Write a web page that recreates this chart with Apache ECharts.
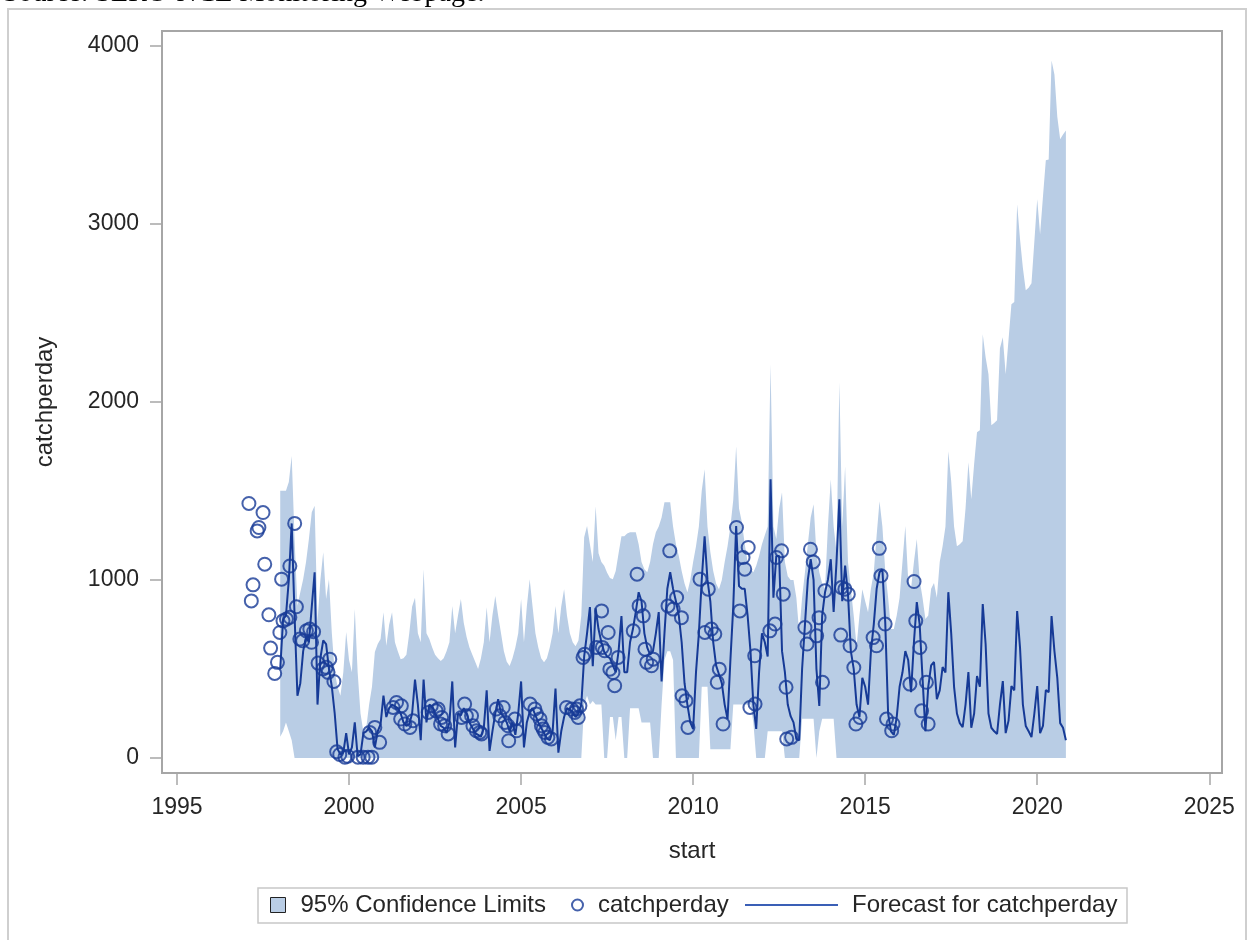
<!DOCTYPE html>
<html>
<head>
<meta charset="utf-8">
<title>catchperday forecast</title>
<script src="https://cdn.jsdelivr.net/npm/echarts@6/dist/echarts.min.js"></script>
<style>
  html, body { margin: 0; padding: 0; background: #fff; }
  #main { width: 1250px; height: 940px; }
</style>
</head>
<body>
<div id="main"></div>
<script>
// monthly forecast, one row per year, first month = Jan 1998
const firstYear = 1998;

const forecast = [
  500, 780, 800, 1000, 1317, 800, 350, 420, 600, 680, 650, 850,      // 1998
  1043, 300, 560, 660, 640, 500, 400, 250, 50, 20, 30, 140,          // 1999
  20, 60, 200, 10, 20, 140, 150, 170, 150, 60, 150, 190,             // 2000
  350, 230, 280, 300, 290, 280, 250, 200, 180, 190, 250, 440,        // 2001
  300, 100, 440, 200, 300, 290, 250, 220, 180, 170, 140, 200,        // 2002
  430, 60, 250, 240, 280, 250, 200, 170, 140, 130, 120, 170,         // 2003
  380, 40, 150, 250, 330, 250, 230, 200, 150, 200, 130, 250,         // 2004
  430, 60, 200, 260, 280, 240, 200, 170, 140, 110, 100, 150,         // 2005
  390, 30, 150, 230, 280, 270, 260, 230, 250, 300, 570, 700,         // 2006
  847, 516, 840, 724, 650, 595, 570, 560, 520, 482, 600, 797,        // 2007
  482, 482, 650, 724, 820, 931, 880, 700, 620, 580, 600, 700,        // 2008
  819, 430, 700, 950, 1043, 950, 880, 800, 650, 420, 300, 200,       // 2009
  163, 482, 700, 1000, 1245, 1000, 880, 650, 520, 470, 420, 300,     // 2010
  219, 550, 853, 1302, 965, 950, 950, 800, 600, 300, 163, 482,       // 2011
  700, 650, 570, 1565, 900, 1134, 1134, 600, 482, 300, 235, 200,     // 2012
  107, 100, 500, 750, 1000, 1116, 1000, 500, 292, 800, 931, 1000,    // 2013
  1116, 820, 1100, 1453, 880, 1080, 920, 600, 500, 300, 230, 450,    // 2014
  400, 300, 600, 750, 950, 1043, 1060, 760, 250, 150, 130, 230,      // 2015
  400, 480, 600, 550, 370, 650, 875, 750, 450, 150, 400, 520,        // 2016
  539, 331, 380, 511, 480, 931, 700, 400, 250, 196, 174, 300,        // 2017
  482, 170, 250, 460, 400, 864, 640, 250, 170, 150, 135, 300,        // 2018
  432, 140, 210, 404, 380, 825, 620, 300, 180, 150, 118, 250,        // 2019
  404, 140, 180, 381, 370, 797, 600, 450, 196, 170, 100              // 2020
];

const upper = [
  1500, 1500, 1500, 1550, 1696, 1229, 855, 930, 1004, 1100, 1229, 1380,
  1416, 763, 1000, 1155, 892, 1004, 700, 482, 400, 350, 482, 707,
  550, 482, 836, 482, 250, 146, 170, 300, 400, 595, 640, 668,
  819, 630, 750, 819, 650, 600, 555, 560, 580, 700, 850, 900,
  700, 650, 1060, 700, 668, 620, 580, 560, 544, 560, 600, 650,
  853, 700, 800, 892, 760, 680, 620, 580, 540, 500, 560, 650,
  847, 650, 800, 909, 800, 700, 600, 540, 516, 560, 620, 700,
  892, 650, 850, 1004, 850, 700, 620, 560, 538, 560, 620, 700,
  853, 700, 850, 948, 800, 700, 650, 628, 660, 800, 1240, 1302,
  1200, 1100, 1414, 1150, 1100, 1080, 1040, 1010, 1004, 1050, 1150, 1245,
  1245, 1260, 1268, 1268, 1268, 1200, 1100, 1060, 1043, 1100, 1200, 1268,
  1300, 1350, 1436, 1436, 1436, 1300, 1200, 1134, 1050, 980, 931, 1000,
  1100, 1189, 1300, 1500, 1621, 1300, 1156, 1050, 980, 948, 1000, 1100,
  1189, 1300, 1450, 1750, 1400, 1324, 1200, 1100, 1060, 1043, 1080, 1134,
  1200, 1250, 1300, 2210, 1300, 1229, 1400, 1492, 1100, 1020, 1000, 1000,
  900, 700, 900, 1043, 1200, 1350, 1425, 1150, 1043, 980, 950, 1300,
  1565, 1300, 1155, 2109, 1300, 1638, 1100, 950, 800, 628, 800, 948,
  880, 819, 950, 1043, 1250, 1442, 1300, 1050, 900, 724, 724, 800,
  900, 1100, 1302, 1000, 950, 1100, 1229, 1000, 900, 780, 800, 950,
  982, 900, 1100, 1189, 1300, 1722, 1554, 1300, 1189, 1200, 1217, 1400,
  1661, 1453, 1650, 1829, 1840, 2379, 2250, 2154, 1868, 1880, 1896, 2300,
  2362, 2154, 2350, 2547, 2560, 3108, 2912, 2750, 2626, 2640, 2665, 2900,
  3136, 2940, 3150, 3355, 3360, 3916, 3837, 3600, 3473, 3500, 3523
];

const lower = [
  120, 150, 200, 150, 100, 0, 0, 0, 0, 0, 0, 0,                      // 1998
  0, 0, 0, 0, 0, 0, 0, 0, 0, 0, 0, 0,
  0, 0, 0, 0, 0, 0, 0, 0, 0, 0, 0, 0,
  0, 0, 0, 0, 0, 0, 0, 0, 0, 0, 0, 0,
  0, 0, 0, 0, 0, 0, 0, 0, 0, 0, 0, 0,
  0, 0, 0, 0, 0, 0, 0, 0, 0, 0, 0, 0,
  0, 0, 0, 0, 0, 0, 0, 0, 0, 0, 0, 0,
  0, 0, 0, 0, 0, 0, 0, 0, 0, 0, 0, 0,
  0, 0, 0, 0, 0, 0, 0, 0, 0, 0, 300, 350,                            // 2006
  300, 320, 300, 300, 300, 0, 0, 230, 230, 100, 230, 230,            // 2007
  0, 0, 280, 280, 280, 280, 200, 200, 200, 200, 0, 0,                // 2008
  0, 300, 550, 600, 600, 550, 0, 0, 0, 0, 0, 0,                      // 2009
  0, 0, 0, 400, 400, 400, 50, 50, 50, 50, 50, 50,                    // 2010
  50, 50, 300, 300, 300, 300, 300, 300, 300, 200, 0, 0,              // 2011
  0, 0, 150, 150, 150, 150, 150, 150, 0, 0, 0, 0,                    // 2012
  0, 0, 220, 220, 220, 220, 220, 0, 150, 220, 220, 220,              // 2013
  220, 220, 0, 0, 0, 0, 0, 0, 0, 0, 0, 0,                            // 2014
  0, 0, 0, 0, 0, 0, 0, 0, 0, 0, 0, 0,
  0, 0, 0, 0, 0, 0, 0, 0, 0, 0, 0, 0,
  0, 0, 0, 0, 0, 0, 0, 0, 0, 0, 0, 0,
  0, 0, 0, 0, 0, 0, 0, 0, 0, 0, 0, 0,
  0, 0, 0, 0, 0, 0, 0, 0, 0, 0, 0, 0,
  0, 0, 0, 0, 0, 0, 0, 0, 0, 0, 0                                    // 2020
];

// observations: [start (decimal year), catchperday]
const observed = [
  [1997.09, 1429], [1997.16, 882], [1997.21, 972], [1997.33, 1275], [1997.38, 1294],
  [1997.50, 1378], [1997.55, 1088], [1997.67, 804], [1997.72, 617], [1997.84, 475],
  [1997.92, 537], [1997.99, 705], [1998.04, 1004], [1998.08, 770], [1998.18, 780],
  [1998.28, 1078], [1998.28, 790], [1998.42, 1317], [1998.47, 849], [1998.57, 668],
  [1998.65, 658], [1998.76, 714], [1998.86, 724], [1998.91, 650], [1998.97, 709],
  [1999.10, 533], [1999.24, 500], [1999.34, 509], [1999.39, 481], [1999.44, 555],
  [1999.56, 430], [1999.64, 35], [1999.73, 20], [1999.88, 5], [1999.96, 10],
  [2000.26, 5], [2000.41, 5], [2000.55, 5], [2000.60, 144], [2000.66, 5],
  [2000.75, 172], [2000.89, 88],
  [2001.28, 284], [2001.38, 312], [2001.50, 219], [2001.52, 293], [2001.62, 191],
  [2001.77, 172], [2001.86, 209],
  [2002.30, 256], [2002.39, 293], [2002.53, 265], [2002.59, 275], [2002.66, 191],
  [2002.69, 228], [2002.78, 181], [2002.88, 135],
  [2003.27, 228], [2003.36, 303], [2003.41, 237], [2003.56, 237], [2003.60, 181],
  [2003.70, 153], [2003.80, 144], [2003.85, 135],
  [2004.28, 275], [2004.38, 237], [2004.48, 284], [2004.53, 200], [2004.62, 181],
  [2004.64, 97], [2004.82, 219], [2004.87, 153],
  [2005.26, 303], [2005.40, 275], [2005.45, 247], [2005.55, 219], [2005.59, 181],
  [2005.64, 163], [2005.69, 144], [2005.78, 116], [2005.88, 107],
  [2006.32, 284], [2006.47, 275], [2006.56, 256], [2006.61, 275], [2006.66, 228],
  [2006.71, 293], [2006.80, 565], [2006.85, 583],
  [2007.19, 621], [2007.34, 826], [2007.36, 621], [2007.43, 602], [2007.53, 705],
  [2007.58, 499], [2007.67, 480], [2007.72, 406], [2007.82, 565],
  [2008.26, 714], [2008.37, 1032], [2008.43, 854], [2008.55, 798], [2008.60, 611],
  [2008.65, 537], [2008.79, 518], [2008.84, 555],
  [2009.27, 854], [2009.32, 1163], [2009.42, 836], [2009.52, 901], [2009.66, 788],
  [2009.68, 350], [2009.79, 322], [2009.85, 172],
  [2010.20, 1004], [2010.34, 705], [2010.44, 948], [2010.53, 724], [2010.63, 696],
  [2010.70, 425], [2010.76, 499], [2010.87, 191],
  [2011.26, 1294], [2011.36, 826], [2011.45, 1126], [2011.50, 1060], [2011.60, 1182],
  [2011.65, 284], [2011.79, 574], [2011.80, 303],
  [2012.23, 714], [2012.38, 752], [2012.42, 1126], [2012.57, 1163], [2012.62, 920],
  [2012.70, 397], [2012.72, 107], [2012.86, 116],
  [2013.25, 733], [2013.31, 640], [2013.41, 1172], [2013.49, 1101], [2013.59, 686],
  [2013.66, 788], [2013.76, 425], [2013.83, 939],
  [2014.29, 690], [2014.31, 957], [2014.41, 948], [2014.51, 920], [2014.56, 630],
  [2014.67, 508], [2014.73, 191], [2014.85, 228],
  [2015.23, 676], [2015.33, 630], [2015.41, 1177], [2015.46, 1023], [2015.58, 752],
  [2015.62, 219], [2015.77, 153], [2015.81, 191],
  [2016.30, 415], [2016.42, 991], [2016.47, 770], [2016.59, 621], [2016.64, 265],
  [2016.78, 425], [2016.83, 191]
];

const xTicks = [1995, 2000, 2005, 2010, 2015, 2020, 2025];
const yTicks = [0, 1000, 2000, 3000, 4000];

const months = forecast.map((_, i) => firstYear + i / 12);

const bandColor = '#b9cde5';
const blue = '#163a96';
const axisGray = '#a6a6a6';
const textColor = '#262626';
const font = '"Liberation Sans", Arial, sans-serif';

const chartDom = document.getElementById('main');
const myChart = echarts.init(chartDom);

// band polygon: upper edge left to right, lower edge back
const renderBand = (params, api) => {
  if (params.dataIndex !== 0) return;
  const pts = [];
  for (let i = 0; i < months.length; i++) pts.push(api.coord([months[i], upper[i]]));
  for (let i = months.length - 1; i >= 0; i--) pts.push(api.coord([months[i], lower[i]]));
  return {
    type: 'polygon',
    shape: {points: pts},
    style: {fill: bandColor}
  };
};

const option = {
  animation: false,
  backgroundColor: '#fff',
  grid: {
    left: 162,
    top: 31,
    width: 1060,
    height: 742,
    show: true,
    borderColor: axisGray,
    borderWidth: 2,
    outerBoundsMode: 'none'
  },
  graphic: [
    {
      type: 'rect',
      shape: {x: 8, y: 9, width: 1238, height: 960},
      style: {fill: 'none', stroke: '#cfcfcf', lineWidth: 2},
      silent: true
    },
    {
      type: 'text',
      x: 3,
      y: -6,
      style: {
        text: 'Source: SERO-NCE Monitoring Webpage.',
        font: '28px "Liberation Serif", "Times New Roman", serif',
        fill: '#000',
        verticalAlign: 'middle'
      },
      silent: true
    },
    {
      type: 'rect',
      shape: {x: 258, y: 888, width: 869, height: 35},
      style: {fill: 'none', stroke: '#c8c8c8', lineWidth: 1.5},
      silent: true
    }
  ],
  legend: [
    {
      data: [{name: '95% Confidence Limits', icon: 'rect',
        itemStyle: {color: bandColor, borderColor: '#222', borderWidth: 1}}],
      left: 270, top: 893, padding: 0,
      itemWidth: 15, itemHeight: 15,
      selectedMode: false,
      textStyle: {fontFamily: font, fontSize: 24, color: textColor, padding: [0, 0, 0, 10]}
    },
    {
      data: [{name: 'catchperday', icon: 'circle',
        itemStyle: {color: 'rgba(0,0,0,0)', borderColor: blue, borderWidth: 2}}],
      left: 571, top: 893, padding: 0,
      itemWidth: 11, itemHeight: 11,
      selectedMode: false,
      textStyle: {fontFamily: font, fontSize: 24, color: textColor, padding: [0, 0, 0, 10]}
    },
    {
      data: [{name: 'Forecast for catchperday', icon: 'rect',
        itemStyle: {color: '#3a5fb6', borderWidth: 0}}],
      left: 745, top: 893, padding: 0,
      itemWidth: 93, itemHeight: 2,
      selectedMode: false,
      textStyle: {fontFamily: font, fontSize: 24, color: textColor, padding: [0, 0, 0, 9]}
    }
  ],
  xAxis: {
    type: 'value',
    min: 1994.564,
    max: 2025.37,
    name: 'start',
    nameLocation: 'middle',
    nameGap: 66,
    nameTextStyle: {fontFamily: font, fontSize: 24, color: textColor},
    axisLine: {show: true, onZero: false, lineStyle: {color: axisGray, width: 2}},
    axisTick: {show: true, length: 12, customValues: xTicks, lineStyle: {color: axisGray, width: 1.5}},
    axisLabel: {
      customValues: xTicks,
      margin: 23,
      fontFamily: font, fontSize: 23, color: textColor,
      formatter: v => String(v)
    },
    splitLine: {show: false}
  },
  yAxis: {
    type: 'value',
    min: -84,
    max: 4081,
    name: 'catchperday',
    nameLocation: 'middle',
    nameGap: 105,
    nameRotate: 90,
    nameTextStyle: {fontFamily: font, fontSize: 24, color: textColor},
    axisLine: {show: true, onZero: false, lineStyle: {color: axisGray, width: 2}},
    axisTick: {show: true, length: 12, customValues: yTicks, lineStyle: {color: axisGray, width: 1.5}},
    axisLabel: {
      customValues: yTicks,
      margin: 23,
      fontFamily: font, fontSize: 23, color: textColor,
      formatter: v => String(v)
    },
    splitLine: {show: false}
  },
  series: [
    {
      name: '95% Confidence Limits',
      type: 'custom',
      renderItem: renderBand,
      clip: true,
      itemStyle: {color: bandColor},
      encode: {x: 0, y: [1, 2]},
      data: months.map((t, i) => [t, lower[i], upper[i]]),
      silent: true,
      z: 1
    },
    {
      name: 'catchperday',
      type: 'scatter',
      symbol: 'circle',
      symbolSize: 13,
      itemStyle: {color: 'rgba(0,0,0,0)', borderColor: blue, borderWidth: 2},
      data: observed,
      silent: true,
      z: 3
    },
    {
      name: 'Forecast for catchperday',
      type: 'line',
      symbol: 'none',
      lineStyle: {color: blue, width: 2},
      itemStyle: {color: blue},
      data: months.map((t, i) => [t, forecast[i]]),
      silent: true,
      z: 4
    }
  ]
};

option && myChart.setOption(option);
</script>
</body>
</html>
